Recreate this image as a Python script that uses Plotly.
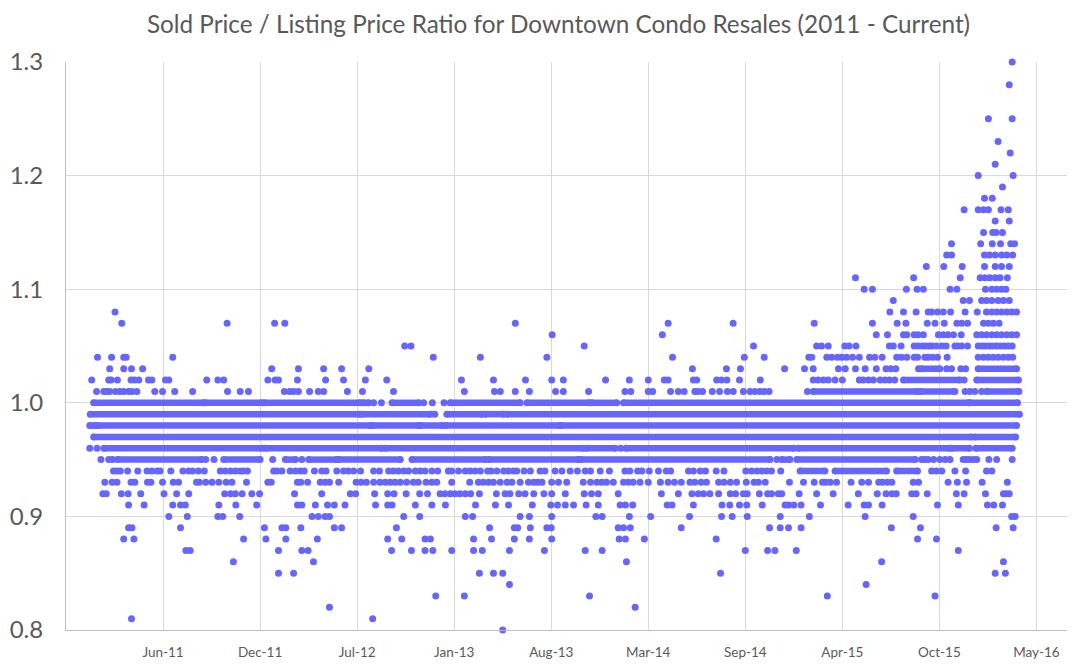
from datetime import datetime, timedelta

import plotly.graph_objects as go

AXIS_START = datetime(2010, 11, 22)

TITLE = "Sold Price / Listing Price Ratio for Downtown Condo Resales (2011 - Current)"
tick_days = [200, 400, 600, 800, 1000, 1200, 1400, 1600, 1800, 2000]
tick_labels = ["Jun-11", "Dec-11", "Jul-12", "Jan-13", "Aug-13", "Mar-14", "Sep-14", "Apr-15", "Oct-15", "May-16"]
ratio_ticks = [0.8, 0.9, 1.0, 1.1, 1.2, 1.3]

# single sales, days since AXIS_START, one list per ratio level
d_130 = [1950]
d_128 = [1944]
d_125 = [1901, 1950]
d_123 = [1921]
d_122 = [1946]
d_121 = [1915]
d_120 = [1880, 1952]
d_119 = [1930]
d_118 = [1893, 1909]
d_117 = [1851, 1880, 1891, 1901, 1927, 1942]
d_116 = [1915, 1944]
d_115 = [1891, 1910, 1917, 1930]
d_114 = [1825, 1885, 1909, 1926, 1947, 1955]
d_113 = [1815, 1825, 1893, 1903, 1915, 1928, 1939, 1951]
d_112 = [1773, 1809, 1847, 1893, 1915, 1928, 1944]
d_111 = [1627, 1747, 1843, 1884, 1894, 1904, 1915, 1925, 1940]
d_110 = [1645, 1662, 1732, 1754, 1767, 1822, 1836, 1895, 1908, 1918, 1928, 1937]
d_109 = [1705, 1849, 1862, 1887, 1897, 1908, 1921, 1932, 1944]
d_108 = [101, 1698, 1726, 1752, 1777, 1784, 1796, 1808, 1823, 1853, 1878, 1897, 1908, 1918, 1928, 1939, 1949, 1959]
d_107 = [115, 332, 430, 451, 926, 1241, 1375, 1542, 1662, 1713, 1731, 1775, 1791, 1810, 1836, 1846, 1858, 1891,
         1901, 1911, 1923]
d_106 = [1002, 1229, 1670, 1693, 1726, 1733, 1748, 1756, 1767, 1798, 1808, 1818, 1829, 1845, 1877, 1887, 1897,
         1908, 1918, 1928, 1939, 1949, 1959]
d_105 = [698, 711, 1068, 1417, 1547, 1557, 1571, 1605, 1614, 1628, 1697, 1705, 1721, 1748, 1756, 1765, 1772, 1779,
         1785, 1794, 1805, 1814, 1832, 1838, 1846, 1858, 1880, 1888, 1895, 1903, 1910, 1918, 1926, 1934, 1942, 1950]
d_104 = [65, 94, 119, 124, 220, 757, 854, 991, 1250, 1398, 1439, 1531, 1537, 1568, 1578, 1590, 1599, 1609, 1621,
         1635, 1656, 1667, 1682, 1712, 1722, 1733, 1748, 1755, 1770, 1777, 1786, 1796, 1816, 1880, 1891, 1901,
         1911, 1921, 1932, 1942, 1951]
d_103 = [90, 119, 135, 158, 424, 479, 531, 568, 624, 1291, 1361, 1390, 1481, 1522, 1540, 1592, 1606, 1627, 1647,
         1670, 1690, 1700, 1710, 1757, 1815, 1825, 1844, 1854]
d_102 = [53, 88, 93, 106, 134, 141, 150, 170, 177, 205, 212, 290, 313, 325, 416, 431, 438, 477, 535, 572, 617, 661,
         815, 881, 947, 1001, 1025, 1112, 1161, 1200, 1233, 1241, 1293, 1300, 1341, 1351, 1362, 1388, 1431, 1540,
         1550, 1561, 1571, 1585, 1600, 1635, 1643, 1654, 1664, 1678, 1688, 1697, 1708, 1851]
d_101 = [63, 78, 84, 90, 102, 111, 119, 129, 136, 146, 183, 199, 224, 261, 333, 359, 376, 450, 461, 469, 479, 502,
         520, 531, 580, 611, 675, 821, 883, 895, 926, 955, 1009, 1025, 1077, 1152, 1164, 1200, 1209, 1246, 1262,
         1274, 1296, 1303, 1312, 1332, 1347, 1363, 1375, 1396, 1410, 1420, 1430, 1439, 1449, 1528, 1853, 1863,
         1873, 1887]
d_100 = [634, 650, 737, 755, 779]
d_099 = [760]
d_096 = [49, 64, 1143]
d_095 = [72, 88, 96, 288, 305, 426, 486, 1465, 1763, 1770, 1777, 1788, 1801, 1812, 1822, 1849, 1855, 1862, 1870,
         1877, 1902, 1918, 1950]
d_094 = [98, 105, 112, 127, 148, 167, 177, 188, 194, 216, 241, 253, 261, 273, 285, 318, 328, 339, 349, 359, 366,
         374, 428, 435, 445, 462, 473, 483, 491, 512, 527, 536, 558, 572, 582, 593, 607, 634, 646, 665, 675, 685,
         696, 706, 720, 730, 740, 754, 766, 788, 795, 809, 823, 833, 843, 854, 869, 876, 888, 902, 912, 922, 929,
         944, 957, 977, 987, 1008, 1022, 1039, 1054, 1070, 1081, 1101, 1120, 1152, 1162, 1178, 1187, 1202, 1221,
         1237, 1246, 1283, 1293, 1307, 1318, 1340, 1356, 1401, 1413, 1424, 1434, 1444, 1454, 1473, 1784, 1794,
         1805, 1832, 1854, 1897, 1908]
d_093 = [80, 95, 105, 134, 142, 168, 175, 199, 221, 232, 269, 275, 288, 301, 315, 330, 342, 372, 416, 423, 477,
         484, 498, 524, 534, 543, 562, 598, 608, 619, 634, 647, 658, 668, 678, 689, 702, 716, 726, 742, 754, 764,
         795, 832, 850, 860, 871, 881, 895, 909, 919, 936, 953, 964, 972, 981, 1001, 1015, 1032, 1066, 1081, 1094,
         1104, 1114, 1128, 1149, 1159, 1169, 1183, 1200, 1225, 1241, 1254, 1268, 1286, 1296, 1309, 1320, 1345,
         1356, 1369, 1382, 1402, 1418, 1427, 1441, 1491, 1520, 1542, 1559, 1566, 1575, 1588, 1618, 1640, 1654,
         1675, 1683, 1693, 1702, 1746, 1757, 1818, 1837, 1856, 1888, 1940]
d_092 = [76, 83, 114, 128, 154, 202, 228, 253, 327, 339, 349, 363, 383, 399, 471, 527, 586, 597, 636, 663, 676,
         701, 729, 745, 771, 781, 792, 802, 812, 823, 834, 852, 887, 905, 915, 933, 946, 964, 985, 1001, 1029,
         1068, 1083, 1097, 1138, 1227, 1262, 1290, 1303, 1314, 1327, 1345, 1369, 1380, 1396, 1404, 1429, 1446,
         1454, 1468, 1475, 1511, 1547, 1581, 1633, 1672, 1690, 1702, 1711, 1743, 1752, 1775, 1835, 1851, 1895,
         1932, 1938, 1944]
d_091 = [129, 161, 220, 236, 246, 315, 350, 393, 477, 486, 514, 539, 553, 575, 638, 663, 672, 720, 754, 782, 844,
         885, 912, 961, 999, 1013, 1029, 1046, 1072, 1097, 1142, 1153, 1168, 1239, 1249, 1293, 1352, 1368, 1388,
         1403, 1435, 1482, 1489, 1500, 1515, 1555, 1612, 1645, 1654, 1682, 1796, 1839, 1899, 1912, 1930]
d_090 = [212, 250, 313, 323, 358, 507, 520, 534, 543, 696, 729, 823, 838, 936, 955, 1001, 1092, 1105, 1161, 1205,
         1285, 1351, 1373, 1404, 1472, 1532, 1647, 1746, 1949, 1956]
d_089 = [129, 136, 236, 409, 445, 453, 484, 553, 568, 681, 873, 924, 931, 957, 991, 1000, 1138, 1149, 1163, 1268,
         1450, 1472, 1489, 1515, 1701, 1761, 1917, 1952]
d_088 = [119, 140, 366, 412, 453, 518, 663, 692, 740, 751, 840, 877, 924, 955, 1001, 1140, 1153, 1192, 1340, 1755,
         1794]
d_087 = [247, 256, 438, 486, 499, 671, 712, 740, 756, 795, 840, 858, 914, 986, 1070, 1105, 1400, 1446, 1461, 1505,
         1839]
d_086 = [345, 510, 1155, 1681, 1932]
d_085 = [438, 469, 852, 881, 900, 1349, 1915, 1936]
d_084 = [914, 1649]
d_083 = [762, 821, 1079, 1569, 1791]
d_082 = [543, 1173]
d_081 = [135, 632]
d_080 = [900]

# stretches where sales overlap into a solid band, (first day, last day)
run_103 = [(1762, 1801), (1880, 1959)]
run_102 = [(1726, 1842), (1877, 1963)]
run_101 = [(1540, 1753), (1760, 1832), (1897, 1964)]
run_100 = [(57, 283), (287, 404), (409, 606), (612, 624), (672, 727), (792, 936), (950, 1078), (1083, 1135),
           (1149, 1860), (1863, 1961)]
run_099 = [(50, 605), (610, 751), (785, 857), (864, 902), (909, 1965)]
run_098 = [(49, 60), (65, 627), (632, 727), (730, 775), (782, 1017), (1020, 1959)]
run_097 = [(57, 1866), (1873, 1957)]
run_096 = [(78, 404), (411, 651), (658, 1066), (1073, 1132), (1154, 1500), (1509, 1820), (1825, 1862), (1875, 1950)]
run_095 = [(106, 280), (325, 400), (452, 473), (500, 558), (562, 689), (713, 864), (871, 1056), (1061, 1451),
           (1475, 1492), (1506, 1750)]
run_094 = [(1513, 1564), (1585, 1691), (1712, 1755)]

single_sales = {
    1.30: d_130, 1.28: d_128, 1.25: d_125, 1.23: d_123, 1.22: d_122, 1.21: d_121, 1.20: d_120, 1.19: d_119,
    1.18: d_118, 1.17: d_117, 1.16: d_116, 1.15: d_115, 1.14: d_114, 1.13: d_113, 1.12: d_112, 1.11: d_111,
    1.10: d_110, 1.09: d_109, 1.08: d_108, 1.07: d_107, 1.06: d_106, 1.05: d_105, 1.04: d_104, 1.03: d_103,
    1.02: d_102, 1.01: d_101, 1.00: d_100, 0.99: d_099, 0.96: d_096, 0.95: d_095, 0.94: d_094, 0.93: d_093,
    0.92: d_092, 0.91: d_091, 0.90: d_090, 0.89: d_089, 0.88: d_088, 0.87: d_087, 0.86: d_086, 0.85: d_085,
    0.84: d_084, 0.83: d_083, 0.82: d_082, 0.81: d_081, 0.80: d_080,
}
solid_runs = {
    1.03: run_103, 1.02: run_102, 1.01: run_101, 1.00: run_100, 0.99: run_099, 0.98: run_098, 0.97: run_097,
    0.96: run_096, 0.95: run_095, 0.94: run_094,
}

DOT_COLOR = "#6666ff"
GRID_COLOR = "#d9d9d9"


def to_date(day: int) -> datetime:
    return AXIS_START + timedelta(days=day)


fig = go.Figure()

# bands first, so the single dots sit on top of them
for ratio, runs in solid_runs.items():
    x, y = [], []
    for first, last in runs:
        x += [to_date(first), to_date(last), None]
        y += [ratio, ratio, None]
    fig.add_trace(
        go.Scatter(
            x=x,
            y=y,
            mode="lines+markers",
            line=dict(color=DOT_COLOR, width=6.5),
            marker=dict(color=DOT_COLOR, size=7),
            hoverinfo="skip",
            cliponaxis=False,
        )
    )

x_dots, y_dots = [], []
for ratio, days in single_sales.items():
    x_dots += [to_date(d) for d in days]
    y_dots += [ratio] * len(days)

fig.add_trace(
    go.Scatter(
        x=x_dots,
        y=y_dots,
        mode="markers",
        marker=dict(color=DOT_COLOR, size=7),
        cliponaxis=False,
    )
)

# the page keeps its 8px body margin, so the figure is 8px smaller than the window
fig.update_layout(
    width=1084,
    height=657,
    autosize=False,
    showlegend=False,
    plot_bgcolor="white",
    paper_bgcolor="white",
    font=dict(family="Lato", color="#595959"),
    margin=dict(l=57.5, r=24.5, t=54, b=34.7, autoexpand=False),
    title=dict(
        text=TITLE,
        x=550.5 / 1084,
        xanchor="center",
        y=0.9756,
        yanchor="middle",
        font=dict(size=24.3, color="#595959"),
    ),
)

fig.update_xaxes(
    type="date",
    range=[AXIS_START, to_date(2063)],
    tickvals=[to_date(d) for d in tick_days],
    ticktext=tick_labels,
    tickfont=dict(size=13.5, color="#595959"),
    showgrid=True,
    gridcolor=GRID_COLOR,
    gridwidth=1,
    showline=True,
    linecolor="#bfbfbf",
    linewidth=1,
    zeroline=False,
    ticks="",
    ticklabelstandoff=10,
)
fig.update_yaxes(
    range=[0.8, 1.3],
    tickvals=ratio_ticks,
    ticktext=[f"{v:.1f}" for v in ratio_ticks],
    tickfont=dict(size=24, color="#595959"),
    showgrid=True,
    gridcolor=GRID_COLOR,
    gridwidth=1,
    showline=True,
    linecolor="#bfbfbf",
    linewidth=1,
    zeroline=False,
    ticks="",
    ticklabelstandoff=17,
)

fig.write_html("out.html")
